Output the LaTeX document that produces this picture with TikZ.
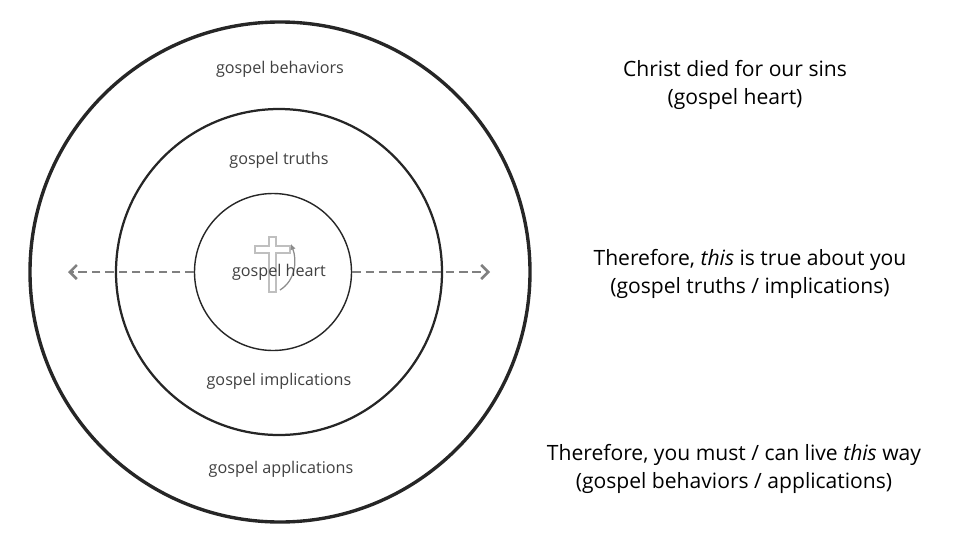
\documentclass[tikz,border=0pt]{standalone}
\usepackage{fontspec}
\setmainfont{Open Sans}
\usetikzlibrary{arrows.meta}
\begin{document}
\begin{tikzpicture}[x=0.025cm,y=-0.025cm,
	ring/.style={circle,draw=black!85,line width=#1,inner sep=0pt},
	lbl/.style={text=black!75,font=\fontsize{11.5}{14}\selectfont},
	note/.style={align=center,font=\fontsize{15}{20}\selectfont},
	spread/.style={draw=black!50,line width=2pt,dash pattern=on 6pt off 3.5pt,-{Straight Barb[length=5pt,width=10pt,line width=1.8pt]}}]
	\useasboundingbox (0,0) rectangle (960,540);
	
	% rings
	\node (outer) at (280,272) [ring=2.4pt,minimum size=500*0.025cm] {};
	\node (middle) at (279,272) [ring=1.6pt,minimum size=326*0.025cm] {};
	\node (inner) at (273,272) [ring=1pt,minimum size=157*0.025cm] {};
	
	% cross and turn arrow
	\draw[black!25,line width=0.8pt] (269,237) -- (276,237) -- (276,246) -- (290,246) -- (290,253) -- (276,253) -- (276,292) -- (269,292) -- (269,253) -- (255,253) -- (255,246) -- (269,246) -- cycle;
	\draw[black!45,line width=0.9pt,-{Latex[length=4pt,width=4pt]}] (280,290) .. controls (296,280) and (297,260) .. (291,244);
	
	% labels
	\node[lbl] (behav) at (280,69) {gospel behaviors};
	\node[lbl] (truth) at (279,160) {gospel truths};
	\node[lbl,fill=white,fill opacity=0.0,text opacity=1] (heart) at (279,272) {gospel heart};
	\node[lbl] (impl) at (279,381) {gospel implications};
	\node[lbl] (appl) at (281,469) {gospel applications};
	
	% arrows
	\coordinate (lend) at (68,272);
	\coordinate (rend) at (490,272);
	\draw[spread] (inner.west) -- (lend);
	\draw[spread] (inner.east) -- (rend);
	
	% right notes
	\node[note] (n1) at (735,85) {Christ died for our sins\\(gospel heart)};
	\node[note] (n2) at (750,274) {Therefore, \emph{this} is true about you\\(gospel truths / implications)};
	\node[note] (n3) at (734,469) {Therefore, you must / can live \emph{this} way\\(gospel behaviors / applications)};
\end{tikzpicture}
\end{document}
